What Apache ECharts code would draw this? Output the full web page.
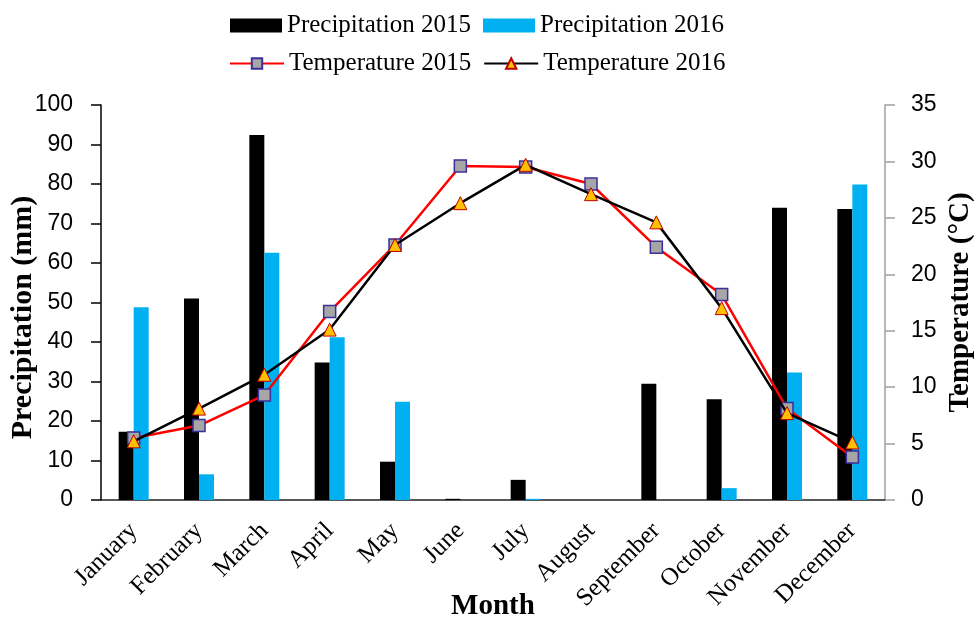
<!DOCTYPE html>
<html>
<head>
<meta charset="utf-8">
<script src="https://cdn.jsdelivr.net/npm/echarts@6/dist/echarts.min.js"></script>
<style>
  html, body { margin: 0; padding: 0; background: #fff; }
  #chart { width: 976px; height: 618px; }
</style>
</head>
<body>
<div id="chart"></div>
<script>
// data
const months = ['January', 'February', 'March', 'April', 'May', 'June', 'July',
  'August', 'September', 'October', 'November', 'December']
const precip2015 = [17.3, 51.0, 92.4, 34.8, 9.7, 0.3, 5.1, 0, 29.4, 25.5, 74.0, 73.7]
const precip2016 = [48.8, 6.5, 62.6, 41.2, 24.9, 0, 0.3, 0, 0, 3.0, 32.3, 79.9]
const temp2015 = [5.5, 6.6, 9.3, 16.7, 22.6, 29.6, 29.5, 28.0, 22.4, 18.2, 8.1, 3.8]
const temp2016 = [5.2, 8.1, 11.1, 15.1, 22.6, 26.3, 29.7, 27.1, 24.6, 17.0, 7.7, 5.1]

const serif = '"Liberation Serif", "Times New Roman", serif'
const sans = '"Liberation Sans", Arial, sans-serif'

const chart = echarts.init(document.getElementById('chart'))

chart.setOption({
  animation: false,
  backgroundColor: '#fff',
  legend: [
    {
      data: [
        { name: 'Precipitation 2015', icon: 'rect' },
        { name: 'Precipitation 2016', icon: 'rect' }
      ],
      left: 225, top: 8,
      itemWidth: 52, itemHeight: 14, itemGap: 12,
      textStyle: { fontFamily: serif, fontSize: 25, color: '#000' }
    },
    {
      data: ['Temperature 2015', 'Temperature 2016'],
      left: 224, top: 46,
      itemWidth: 54, itemHeight: 13, itemGap: 12,
      textStyle: { fontFamily: serif, fontSize: 25, color: '#000' }
    }
  ],
  grid: { left: 101, right: 91, top: 105, bottom: 118, outerBoundsMode: 'none' },
  xAxis: {
    type: 'category',
    data: months,
    name: 'Month',
    nameLocation: 'middle',
    nameGap: 92,
    nameMoveOverlap: false,
    nameTextStyle: { fontFamily: serif, fontSize: 29, fontWeight: 'bold', color: '#000' },
    axisLine: { lineStyle: { color: '#222', width: 1.5 } },
    axisTick: { inside: true, length: 7, lineStyle: { color: '#222', width: 1.5 } },
    axisLabel: { rotate: 45, margin: 27, fontFamily: serif, fontSize: 25, color: '#000' }
  },
  yAxis: [
    {
      type: 'value',
      min: 0, max: 100, interval: 10,
      name: 'Precipitation (mm)',
      nameLocation: 'middle',
      nameGap: 63,
      nameMoveOverlap: false,
      nameTextStyle: { fontFamily: serif, fontSize: 30, fontWeight: 'bold', color: '#000', padding: [0, 30, 0, 0] },
      axisLine: { show: true, lineStyle: { color: '#000', width: 1.5 } },
      axisTick: { show: true, length: 10, lineStyle: { color: '#000', width: 1.5 } },
      axisLabel: { margin: 28, fontFamily: sans, fontSize: 23, color: '#000' },
      splitLine: { show: false }
    },
    {
      type: 'value',
      min: 0, max: 35, interval: 5,
      name: 'Temperature (°C)',
      nameLocation: 'middle',
      nameGap: 61,
      nameMoveOverlap: false,
      nameTextStyle: { fontFamily: serif, fontSize: 29, fontWeight: 'bold', color: '#000' },
      axisLine: { show: true, lineStyle: { color: '#a0a0a0', width: 1.5 } },
      axisTick: { show: true, length: 10, lineStyle: { color: '#a0a0a0', width: 1.5 } },
      axisLabel: { margin: 26, fontFamily: sans, fontSize: 23, color: '#000' },
      splitLine: { show: false }
    }
  ],
  series: [
    {
      name: 'Precipitation 2015',
      type: 'bar',
      data: precip2015,
      barWidth: 15,
      barGap: '0%',
      itemStyle: { color: '#000' }
    },
    {
      name: 'Precipitation 2016',
      type: 'bar',
      data: precip2016,
      barWidth: 15,
      itemStyle: { color: '#00b0f0' }
    },
    {
      name: 'Temperature 2015',
      type: 'line',
      yAxisIndex: 1,
      data: temp2015,
      symbol: 'rect',
      symbolSize: 12,
      lineStyle: { color: '#ff0000', width: 2.5 },
      itemStyle: { color: '#a6a6a6', borderColor: '#3b2f9a', borderWidth: 1.5 },
      z: 3
    },
    {
      name: 'Temperature 2016',
      type: 'line',
      yAxisIndex: 1,
      data: temp2016,
      symbol: 'triangle',
      symbolSize: 13,
      lineStyle: { color: '#000', width: 2.5 },
      itemStyle: { color: '#ffc000', borderColor: '#c00000', borderWidth: 1 },
      z: 4
    }
  ]
})
</script>
</body>
</html>
